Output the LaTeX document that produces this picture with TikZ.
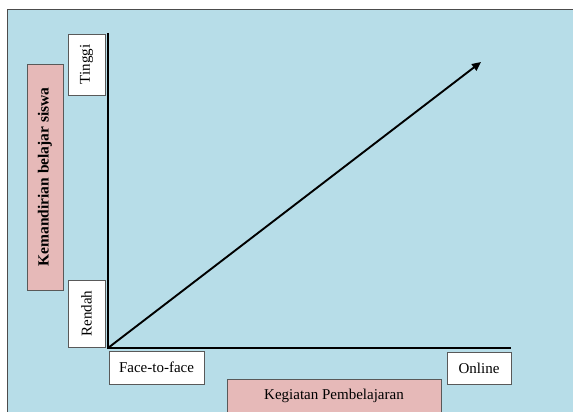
\documentclass[tikz,border=0pt]{standalone}
\usepackage{fontspec}
\setmainfont{Liberation Serif}
\usetikzlibrary{arrows.meta, positioning}
\definecolor{bgblue}{HTML}{B7DDE8}
\definecolor{labelpink}{HTML}{E6B9B8}

\begin{document}
\begin{tikzpicture}[
				x=1pt, y=-1pt,
				>=Triangle,
				box/.style={draw=black!65, line width=0.8pt, fill=white, inner sep=0pt, font=\fontsize{15}{17}\selectfont},
				titlebox/.style={box, fill=labelpink},
				axis/.style={line width=2.6pt, line cap=rect},
				arrow/.style={line width=1.9pt, arrows={-Triangle[length=9pt, width=8pt]}}
				]
				
				\useasboundingbox (0,0) rectangle (573,412);
				
				% Latar
				\fill[bgblue] (7,10) rectangle (573,412);
				\draw[black!70, line width=1pt] (573,10) -- (7,10) -- (7,412);
				
				% Sumbu
				\coordinate (O) at (108,348);
				\coordinate (ytop) at (108,34);
				\coordinate (xend) at (510,348);
				\coordinate (tip) at (481,62);
				\draw[axis] (ytop) -- (O) -- (xend);
				
				% Label sumbu y
				\node[box, rotate=90, minimum width=61pt, minimum height=37pt] (tinggi) at (86.5,64.5) {Tinggi};
				\node[box, rotate=90, minimum width=67pt, minimum height=37pt] (rendah) at (86.5,313.5) {Rendah};
				\node[titlebox, rotate=90, minimum width=226pt, minimum height=36pt, font=\fontsize{15.5}{17}\selectfont\bfseries] (kemandirian) at (45,177) {Kemandirian belajar siswa};
				
				% Label sumbu x
				\node[box, minimum width=95pt, minimum height=33pt] (f2f) at (156.5,367.5) {Face-to-face};
				\node[box, minimum width=64pt, minimum height=32pt] (online) at (479,368) {Online};
				\node[titlebox, minimum width=214pt, minimum height=33pt] (kegiatan) at (334,395.5) {Kegiatan Pembelajaran};
				
				% Garis naik
				\draw[arrow] (O) -- (tip);
				
			\end{tikzpicture}
\end{document}
